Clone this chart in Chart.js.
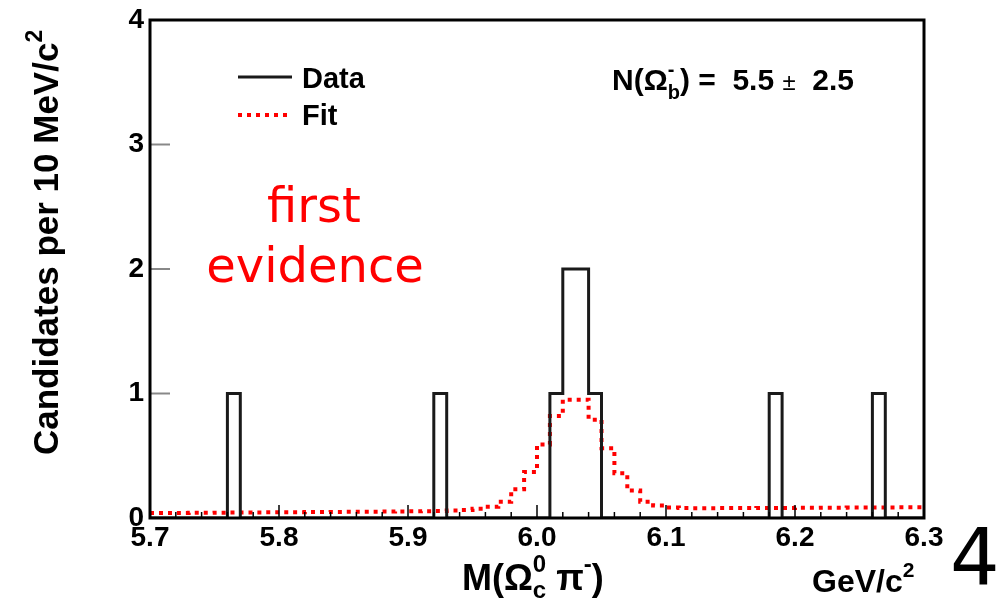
<!DOCTYPE html>
<html>
<head>
<meta charset="utf-8">
<script src="https://cdn.jsdelivr.net/npm/chart.js@4"></script>
<style>
  body { margin: 0; background: #fff; }
</style>
</head>
<body>
<canvas id="massChart" width="1002" height="600"></canvas>
<script>
// M(Omega_c pi) histogramme, bins de 10 MeV

const xMin = 5.7;
const xMax = 6.3;
const binWidth = 0.01;
const yTicks = [0, 1, 2, 3, 4];

// candidats par bin (60 bins de 5.70 a 6.30)
const dataCounts = [
  0, 0, 0, 0, 0, 0, 1, 0, 0, 0,
  0, 0, 0, 0, 0, 0, 0, 0, 0, 0,
  0, 0, 1, 0, 0, 0, 0, 0, 0, 0,
  0, 1, 2, 2, 1, 0, 0, 0, 0, 0,
  0, 0, 0, 0, 0, 0, 0, 0, 1, 0,
  0, 0, 0, 0, 0, 0, 1, 0, 0, 0,
];

// ajustement par bin
const fitValues = [
  0.040, 0.040, 0.041, 0.042, 0.042, 0.043, 0.044, 0.044, 0.045, 0.046,
  0.046, 0.047, 0.048, 0.048, 0.049, 0.050, 0.050, 0.051, 0.052, 0.053,
  0.054, 0.055, 0.057, 0.060, 0.065, 0.075, 0.090, 0.130, 0.230, 0.370,
  0.590, 0.820, 0.950, 0.950, 0.790, 0.560, 0.360, 0.220, 0.130, 0.100,
  0.085, 0.080, 0.079, 0.079, 0.080, 0.080, 0.080, 0.081, 0.081, 0.081,
  0.082, 0.082, 0.083, 0.083, 0.084, 0.084, 0.085, 0.085, 0.086, 0.086,
];

const seriesLabels = ["Data", "Fit"];

// un point au bord bas de chaque bin, plus le bord haut final
function toSteps(values) {
  const pts = values.map((v, i) => ({ x: xMin + i * binWidth, y: v }));
  pts.push({ x: xMax, y: values[values.length - 1] });
  return pts;
}

const BOLD = "'Liberation Sans', Arial, Helvetica, sans-serif";

function drawRich(ctx, x, y, parts) {
  let cx = x;
  parts.forEach((p) => {
    ctx.font = p.font;
    if (p.stack) {
      // exposant et indice empiles
      const w1 = ctx.measureText(p.sup).width;
      const w2 = ctx.measureText(p.sub).width;
      ctx.fillText(p.sup, cx, y + p.supDy);
      ctx.fillText(p.sub, cx, y + p.subDy);
      cx += Math.max(w1, w2);
    } else {
      ctx.fillText(p.t, cx, y + (p.dy || 0));
      cx += ctx.measureText(p.t).width;
    }
  });
  return cx;
}

const decor = {
  id: "decor",
  afterDraw(chart) {
    const ctx = chart.ctx;
    const area = chart.chartArea;
    const xs = chart.scales.x;
    const ys = chart.scales.y;
    ctx.save();

    // graduations interieures
    ctx.strokeStyle = "#000";
    ctx.lineWidth = 1.5;
    for (let k = 0; k <= 30; k++) {
      const px = xs.getPixelForValue(xMin + k * 0.02);
      const len = k % 5 === 0 ? 13 : 6;
      ctx.beginPath();
      ctx.moveTo(px, area.bottom);
      ctx.lineTo(px, area.bottom - len);
      ctx.stroke();
    }
    ctx.strokeStyle = "#888";
    ctx.lineWidth = 2;
    [1, 2, 3].forEach((v) => {
      const py = ys.getPixelForValue(v);
      ctx.beginPath();
      ctx.moveTo(area.left, py);
      ctx.lineTo(area.left + 20, py);
      ctx.stroke();
    });

    // cadre
    ctx.strokeStyle = "#000";
    ctx.lineWidth = 3;
    ctx.strokeRect(area.left, area.top, area.right - area.left, area.bottom - area.top);

    // legende
    const ds = chart.data.datasets;
    ctx.lineWidth = 3;
    ctx.strokeStyle = ds[0].borderColor;
    ctx.beginPath();
    ctx.moveTo(238, 77);
    ctx.lineTo(292, 77);
    ctx.stroke();
    ctx.strokeStyle = ds[1].borderColor;
    ctx.lineWidth = 4;
    ctx.setLineDash(ds[1].borderDash);
    ctx.beginPath();
    ctx.moveTo(238, 115);
    ctx.lineTo(292, 115);
    ctx.stroke();
    ctx.setLineDash([]);
    ctx.fillStyle = "#000";
    ctx.textBaseline = "alphabetic";
    ctx.textAlign = "left";
    ctx.font = "bold 29px " + BOLD;
    ctx.fillText(ds[0].label, 302, 88);
    ctx.fillText(ds[1].label, 302, 125);

    // N(Omega_b) = 5.5 +- 2.5
    const big = "bold 30px " + BOLD;
    const small = "bold 20px " + BOLD;
    drawRich(ctx, 612, 90, [
      { t: "N(\u03A9", font: big },
      { stack: true, sup: "-", sub: "b", supDy: -14, subDy: 9, font: small },
      { t: ") =  5.5 ", font: big },
      { t: "\u00B1", font: "24px " + BOLD },
      { t: "  2.5", font: big },
    ]);

    // titre axe x
    drawRich(ctx, 462, 590, [
      { t: "M(\u03A9", font: "bold 36px " + BOLD },
      { stack: true, sup: "0", sub: "c", supDy: -18, subDy: 8, font: "bold 24px " + BOLD },
      { t: " \u03C0", font: "bold 36px " + BOLD },
      { t: "-", font: "bold 24px " + BOLD, dy: -18 },
      { t: ")", font: "bold 36px " + BOLD },
    ]);
    drawRich(ctx, 812, 592, [
      { t: "GeV/c", font: "bold 32px " + BOLD },
      { t: "2", font: "bold 21px " + BOLD, dy: -15 },
    ]);

    // titre axe y
    ctx.save();
    ctx.translate(58, 455);
    ctx.rotate(-Math.PI / 2);
    drawRich(ctx, 0, 0, [
      { t: "Candidates per 10 MeV/c", font: "bold 35px " + BOLD },
      { t: "2", font: "bold 23px " + BOLD, dy: -16 },
    ]);
    ctx.restore();

    // annotation
    ctx.fillStyle = "#ff0000";
    ctx.textAlign = "center";
    ctx.font = "48px 'DejaVu Sans', sans-serif";
    ctx.fillText("first", 314, 222);
    ctx.fillText("evidence", 315, 282);

    // numero de page
    ctx.fillStyle = "#000";
    ctx.textAlign = "left";
    ctx.font = "78px 'DejaVu Sans', sans-serif";
    ctx.fillText("4", 950, 585);
    ctx.restore();
  },
};

const massChart = new Chart(document.querySelector("#massChart"), {
  type: "line",
  data: {
    datasets: [
      {
        label: seriesLabels[0],
        data: toSteps(dataCounts),
        stepped: "before",
        borderColor: "#1a1a1a",
        borderWidth: 3,
        pointRadius: 0,
        fill: false,
      },
      {
        label: seriesLabels[1],
        data: toSteps(fitValues),
        stepped: "before",
        borderColor: "#ff0000",
        borderWidth: 4,
        borderDash: [4, 5],
        borderCapStyle: "butt",
        pointRadius: 0,
        fill: false,
      },
    ],
  },
  options: {
    responsive: false,
    animation: false,
    layout: { padding: { top: 14, right: 78, left: 0, bottom: 0 } },
    plugins: {
      legend: { display: false },
      tooltip: { enabled: false },
    },
    scales: {
      x: {
        type: "linear",
        min: xMin,
        max: xMax,
        afterFit(scale) {
          scale.height = 82;
        },
        afterBuildTicks(scale) {
          scale.ticks = [5.7, 5.8, 5.9, 6.0, 6.1, 6.2, 6.3].map((v) => ({ value: v }));
        },
        ticks: {
          padding: 6,
          autoSkip: false,
          maxRotation: 0,
          color: "#000",
          font: { family: BOLD, size: 28, weight: "bold", lineHeight: 1 },
          callback: (v) => Number(v).toFixed(1),
        },
        grid: { display: false, drawTicks: false },
        border: { display: false },
      },
      y: {
        min: 0,
        max: 4,
        afterFit(scale) {
          scale.width = 150;
        },
        afterBuildTicks(scale) {
          scale.ticks = yTicks.map((v) => ({ value: v }));
        },
        ticks: {
          padding: 6,
          color: "#000",
          font: { family: BOLD, size: 28, weight: "bold", lineHeight: 1 },
        },
        grid: { display: false, drawTicks: false },
        border: { display: false },
      },
    },
  },
  plugins: [decor],
});
</script>
</body>
</html>
